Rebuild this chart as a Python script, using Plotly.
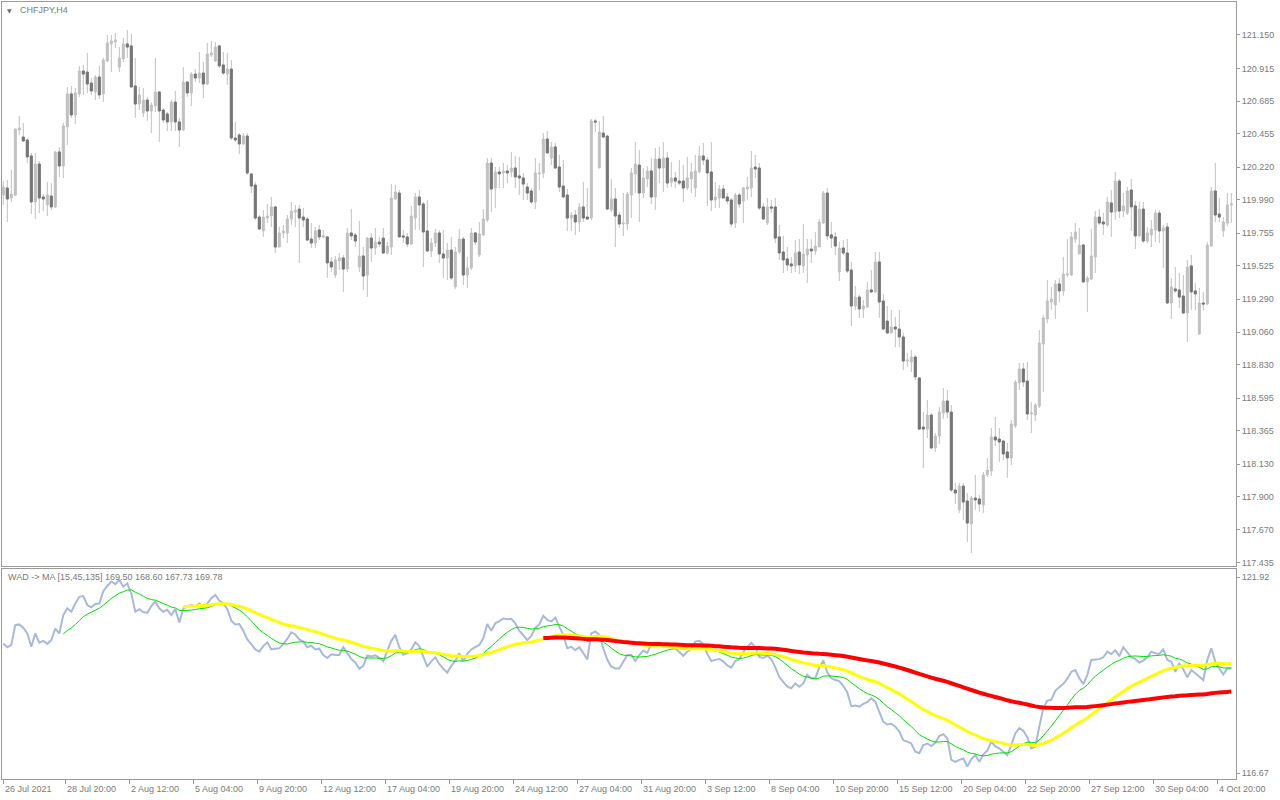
import numpy as np
import pandas as pd
import plotly.graph_objects as go

# ---------------- data ----------------
symbol_label = "CHFJPY,H4"
indicator_label = "WAD -> MA [15,45,135] 169.50 168.60 167.73 169.78"

opens = [
    120.024, 120.073, 120.003, 120.024, 120.481, 120.432, 120.411, 120.299, 119.975, 120.242,
    120.010, 119.954, 120.017, 119.940, 120.327, 120.228, 120.503, 120.735, 120.587, 120.735,
    120.896, 120.889, 120.812, 120.749, 120.854, 120.735, 120.967, 121.087, 121.101, 120.924,
    120.981, 121.087, 121.073, 120.791, 120.664, 120.601, 120.692, 120.615, 120.650, 120.749,
    120.622, 120.594, 120.538, 120.678, 120.538, 120.481, 120.819, 120.742, 120.875, 120.847,
    120.882, 120.805, 121.009, 120.967, 121.073, 120.939, 120.875, 120.910, 120.425, 120.446,
    120.383, 120.439, 120.172, 120.094, 119.869, 119.771, 119.862, 119.876, 119.940, 119.658,
    119.757, 119.757, 119.855, 119.904, 119.925, 119.869, 119.855, 119.714, 119.686, 119.778,
    119.729, 119.729, 119.553, 119.461, 119.560, 119.581, 119.503, 119.757, 119.743, 119.518,
    119.595, 119.461, 119.721, 119.651, 119.693, 119.721, 119.616, 119.658, 119.996, 120.038,
    119.736, 119.729, 119.679, 119.862, 120.010, 119.961, 119.771, 119.630, 119.686, 119.757,
    119.609, 119.581, 119.637, 119.377, 119.623, 119.714, 119.461, 119.510, 119.757, 119.602,
    119.743, 119.848, 120.249, 120.073, 120.186, 120.179, 120.193, 120.186, 120.214, 120.158,
    120.144, 120.080, 120.052, 119.975, 120.172, 120.179, 120.418, 120.284, 120.362, 120.221,
    120.087, 120.024, 119.862, 119.883, 119.834, 119.940, 119.869, 119.862, 120.545, 120.214,
    120.460, 120.439, 119.918, 119.996, 119.883, 119.820, 119.820, 120.024, 120.172, 120.235,
    120.038, 120.137, 120.193, 120.010, 120.277, 120.214, 120.284, 120.115, 120.144, 120.122,
    120.122, 120.073, 120.137, 120.073, 120.186, 120.299, 120.270, 120.186, 119.989, 120.003,
    120.066, 120.010, 119.989, 119.827, 120.024, 119.982, 120.066, 120.073, 120.221, 120.214,
    119.940, 119.827, 119.940, 119.940, 119.729, 119.623, 119.574, 119.539, 119.525, 119.623,
    119.525, 119.602, 119.644, 119.630, 119.658, 119.827, 120.038, 119.743, 119.729, 119.482,
    119.651, 119.616, 119.496, 119.243, 119.306, 119.222, 119.236, 119.356, 119.342, 119.553,
    119.278, 119.137, 119.053, 119.095, 119.081, 119.025, 118.856, 118.849, 118.884, 118.737,
    118.391, 118.377, 118.476, 118.244, 118.328, 118.490, 118.575, 118.497, 117.948, 117.808,
    117.976, 117.871, 117.709, 117.892, 117.885, 117.843, 118.054, 118.082, 118.321, 118.307,
    118.293, 118.216, 118.174, 118.399, 118.701, 118.800, 118.715, 118.483, 118.476, 118.539,
    118.976, 119.152, 119.271, 119.250, 119.398, 119.349, 119.461, 119.461, 119.714, 119.609,
    119.672, 119.412, 119.433, 119.588, 119.869, 119.834, 119.813, 119.968, 119.904, 120.122,
    119.911, 119.897, 120.059, 119.947, 119.736, 119.925, 119.700, 119.743, 119.778, 119.897,
    119.771, 119.799, 119.264, 119.363, 119.356, 119.313, 119.194, 119.525, 119.349, 119.046,
    119.264, 119.257, 119.665, 120.052, 119.890, 119.771, 119.827, 119.954,
]

highs = [
    120.122, 120.129, 120.200, 120.489, 120.580, 120.531, 120.425, 120.320, 120.320, 120.263,
    120.031, 120.115, 120.108, 120.334, 120.362, 120.531, 120.784, 120.791, 120.777, 120.932,
    120.939, 121.023, 120.847, 120.868, 120.932, 120.988, 121.150, 121.150, 121.164, 121.065,
    121.129, 121.185, 121.157, 120.988, 120.784, 120.777, 120.713, 120.678, 120.988, 120.756,
    120.636, 120.608, 120.692, 120.756, 120.566, 120.924, 120.826, 120.889, 120.910, 121.030,
    120.960, 121.094, 121.108, 121.101, 121.080, 121.030, 121.023, 120.974, 120.538, 120.460,
    120.460, 120.460, 120.179, 120.115, 119.883, 119.918, 119.961, 120.010, 119.947, 119.799,
    119.813, 119.883, 119.975, 119.954, 119.954, 119.932, 119.869, 119.827, 119.799, 119.813,
    119.778, 119.736, 119.588, 119.595, 119.616, 119.602, 119.792, 119.925, 119.757, 119.841,
    119.658, 119.729, 119.757, 119.792, 119.729, 119.792, 119.693, 120.101, 120.094, 120.059,
    119.778, 119.757, 119.947, 120.038, 120.059, 119.975, 119.989, 119.721, 119.785, 119.778,
    119.778, 119.686, 119.729, 119.658, 119.785, 119.729, 119.588, 119.792, 119.764, 119.834,
    119.925, 120.284, 120.284, 120.221, 120.221, 120.249, 120.235, 120.327, 120.299, 120.292,
    120.179, 120.108, 120.073, 120.284, 120.249, 120.460, 120.474, 120.397, 120.390, 120.306,
    120.270, 120.066, 119.904, 119.918, 119.968, 120.115, 120.073, 120.559, 120.559, 120.545,
    120.580, 120.446, 120.137, 120.073, 119.904, 120.038, 120.045, 120.214, 120.397, 120.341,
    120.214, 120.228, 120.284, 120.355, 120.362, 120.397, 120.327, 120.256, 120.186, 120.270,
    120.235, 120.292, 120.249, 120.306, 120.369, 120.390, 120.292, 120.397, 120.115, 120.094,
    120.094, 120.038, 120.003, 120.038, 120.038, 120.080, 120.151, 120.334, 120.306, 120.249,
    119.968, 120.003, 119.989, 120.003, 119.813, 119.736, 119.658, 119.588, 119.707, 119.714,
    119.820, 119.714, 119.714, 119.764, 119.855, 120.052, 120.073, 119.834, 119.764, 119.693,
    119.707, 119.714, 119.553, 119.384, 119.321, 119.285, 119.412, 119.496, 119.623, 119.623,
    119.328, 119.243, 119.215, 119.166, 119.215, 119.053, 118.912, 118.933, 118.898, 118.737,
    118.497, 118.582, 118.490, 118.349, 118.532, 118.666, 118.652, 118.546, 117.998, 117.998,
    117.998, 117.927, 117.906, 118.054, 117.913, 118.075, 118.173, 118.385, 118.462, 118.385,
    118.300, 118.279, 118.441, 118.722, 118.842, 118.842, 118.849, 118.568, 118.561, 119.074,
    119.180, 119.426, 119.377, 119.426, 119.440, 119.588, 119.714, 119.764, 119.827, 119.792,
    119.679, 119.454, 119.785, 119.911, 119.925, 119.897, 120.010, 120.059, 120.186, 120.137,
    120.038, 120.080, 120.137, 119.982, 119.975, 119.975, 119.799, 119.848, 119.918, 119.918,
    119.813, 119.827, 119.440, 119.518, 119.475, 119.461, 119.567, 119.602, 119.405, 119.370,
    119.342, 119.693, 120.080, 120.249, 120.003, 119.869, 120.038, 120.038,
]

lows = [
    119.954, 119.834, 119.975, 120.017, 120.446, 120.397, 120.249, 119.890, 119.855, 119.897,
    119.911, 119.876, 119.918, 119.932, 120.151, 120.144, 120.376, 120.566, 120.524, 120.714,
    120.728, 120.742, 120.728, 120.692, 120.699, 120.678, 120.960, 120.889, 121.058, 120.889,
    120.960, 120.988, 120.777, 120.566, 120.622, 120.573, 120.545, 120.460, 120.608, 120.397,
    120.531, 120.474, 120.474, 120.474, 120.362, 120.474, 120.714, 120.650, 120.819, 120.812,
    120.706, 120.798, 120.995, 120.960, 120.918, 120.868, 120.798, 120.411, 120.397, 120.313,
    120.376, 120.165, 120.038, 119.848, 119.778, 119.729, 119.827, 119.799, 119.616, 119.658,
    119.721, 119.686, 119.813, 119.799, 119.546, 119.799, 119.700, 119.651, 119.651, 119.707,
    119.721, 119.440, 119.482, 119.440, 119.496, 119.342, 119.482, 119.707, 119.658, 119.482,
    119.356, 119.307, 119.553, 119.602, 119.658, 119.609, 119.609, 119.602, 119.989, 119.729,
    119.686, 119.658, 119.672, 119.778, 119.778, 119.518, 119.623, 119.588, 119.658, 119.546,
    119.440, 119.426, 119.426, 119.363, 119.609, 119.391, 119.370, 119.496, 119.672, 119.588,
    119.736, 119.834, 119.904, 119.932, 120.073, 120.073, 120.108, 120.151, 120.073, 120.024,
    119.989, 119.989, 119.961, 119.925, 120.059, 120.144, 120.313, 120.235, 120.207, 120.045,
    120.003, 119.771, 119.771, 119.743, 119.764, 119.834, 119.848, 119.848, 120.467, 120.214,
    120.425, 119.918, 119.904, 119.658, 119.792, 119.736, 119.778, 119.862, 120.038, 119.834,
    120.003, 120.080, 119.961, 119.918, 120.108, 120.045, 120.073, 120.080, 120.073, 120.094,
    119.975, 120.059, 120.038, 120.010, 120.179, 120.235, 119.947, 119.911, 119.932, 119.932,
    120.003, 119.961, 119.799, 119.792, 119.932, 119.827, 119.989, 120.010, 120.144, 119.918,
    119.848, 119.813, 119.897, 119.686, 119.567, 119.475, 119.489, 119.475, 119.482, 119.468,
    119.475, 119.405, 119.546, 119.602, 119.658, 119.820, 119.707, 119.651, 119.602, 119.419,
    119.602, 119.475, 119.102, 119.215, 119.159, 119.159, 119.229, 119.335, 119.335, 119.159,
    119.074, 119.053, 119.053, 118.954, 118.954, 118.793, 118.814, 118.779, 118.722, 118.370,
    118.103, 118.314, 118.237, 118.216, 118.272, 118.448, 118.455, 117.934, 117.850, 117.787,
    117.737, 117.582, 117.505, 117.808, 117.794, 117.787, 118.040, 118.047, 118.258, 118.145,
    118.159, 118.033, 118.124, 118.385, 118.652, 118.673, 118.441, 118.349, 118.434, 118.525,
    118.638, 119.123, 119.215, 119.152, 119.271, 119.314, 119.447, 119.454, 119.686, 119.609,
    119.405, 119.201, 119.426, 119.475, 119.813, 119.743, 119.799, 119.729, 119.848, 119.862,
    119.869, 119.883, 119.771, 119.644, 119.729, 119.686, 119.686, 119.658, 119.693, 119.686,
    119.510, 119.257, 119.152, 119.335, 119.229, 119.187, 118.990, 119.215, 119.215, 119.039,
    119.215, 119.250, 119.658, 119.834, 119.834, 119.729, 119.803, 119.827,
]

closes = [
    120.080, 119.996, 120.031, 120.489, 120.496, 120.404, 120.292, 119.975, 120.242, 120.003,
    119.996, 120.024, 119.940, 120.327, 120.228, 120.510, 120.735, 120.587, 120.742, 120.896,
    120.875, 120.805, 120.756, 120.854, 120.728, 120.974, 121.094, 121.108, 121.115, 120.988,
    121.087, 121.065, 120.784, 120.664, 120.728, 120.692, 120.615, 120.657, 120.749, 120.615,
    120.552, 120.538, 120.678, 120.538, 120.481, 120.819, 120.742, 120.875, 120.847, 120.882,
    120.805, 121.016, 121.023, 121.065, 120.932, 120.882, 120.910, 120.425, 120.411, 120.383,
    120.439, 120.179, 120.087, 119.862, 119.785, 119.869, 119.876, 119.940, 119.658, 119.757,
    119.771, 119.855, 119.911, 119.918, 119.862, 119.848, 119.707, 119.686, 119.771, 119.729,
    119.736, 119.546, 119.518, 119.567, 119.581, 119.503, 119.757, 119.736, 119.700, 119.595,
    119.454, 119.721, 119.651, 119.693, 119.679, 119.616, 119.665, 120.003, 120.045, 119.729,
    119.729, 119.679, 119.876, 120.010, 119.954, 119.764, 119.630, 119.686, 119.757, 119.609,
    119.581, 119.637, 119.440, 119.623, 119.714, 119.461, 119.510, 119.757, 119.693, 119.750,
    119.855, 120.249, 120.066, 120.186, 120.172, 120.193, 120.179, 120.214, 120.151, 120.144,
    120.101, 120.038, 119.975, 120.179, 120.179, 120.418, 120.320, 120.362, 120.214, 120.080,
    120.010, 119.862, 119.883, 119.834, 119.940, 119.862, 119.855, 120.545, 120.538, 120.467,
    120.432, 119.925, 119.996, 119.876, 119.820, 119.827, 120.031, 120.179, 120.242, 120.038,
    120.144, 120.193, 120.010, 120.277, 120.214, 120.284, 120.108, 120.144, 120.122, 120.108,
    120.073, 120.144, 120.186, 120.193, 120.299, 120.270, 120.179, 119.989, 120.010, 120.066,
    120.003, 119.982, 119.820, 120.024, 119.961, 120.073, 120.080, 120.214, 120.207, 119.932,
    119.855, 119.940, 119.932, 119.721, 119.616, 119.567, 119.532, 119.525, 119.616, 119.532,
    119.609, 119.644, 119.630, 119.665, 119.834, 120.038, 119.736, 119.721, 119.665, 119.651,
    119.616, 119.489, 119.243, 119.306, 119.222, 119.243, 119.356, 119.342, 119.553, 119.271,
    119.081, 119.053, 119.095, 119.081, 119.025, 118.856, 118.863, 118.884, 118.744, 118.377,
    118.377, 118.476, 118.244, 118.328, 118.497, 118.575, 118.497, 117.948, 117.927, 117.976,
    117.864, 117.716, 117.892, 117.878, 117.850, 118.054, 118.089, 118.321, 118.300, 118.286,
    118.202, 118.174, 118.413, 118.708, 118.800, 118.708, 118.483, 118.490, 118.546, 118.983,
    119.159, 119.278, 119.292, 119.398, 119.349, 119.468, 119.468, 119.729, 119.764, 119.672,
    119.412, 119.440, 119.595, 119.869, 119.827, 119.820, 119.975, 119.904, 120.122, 119.911,
    119.947, 120.052, 119.940, 119.736, 119.925, 119.700, 119.757, 119.785, 119.897, 119.771,
    119.792, 119.264, 119.377, 119.349, 119.306, 119.194, 119.518, 119.342, 119.328, 119.264,
    119.257, 119.672, 120.052, 119.883, 119.869, 119.834, 119.954, 119.961,
]

wad = [
    120.14, 120.04, 120.10, 120.63, 120.65, 120.56, 120.41, 120.05, 120.41, 120.16,
    120.21, 120.13, 120.23, 120.54, 120.41, 120.90, 121.08, 120.99, 121.21, 121.39,
    121.41, 121.17, 121.11, 121.20, 121.21, 121.54, 121.68, 121.80, 121.73, 121.84,
    121.66, 121.75, 121.48, 120.99, 121.06, 120.98, 120.96, 121.14, 121.26, 121.08,
    120.99, 121.04, 120.90, 121.06, 120.70, 121.08, 121.13, 121.17, 121.13, 121.21,
    121.13, 121.21, 121.35, 121.44, 121.29, 121.21, 121.06, 120.75, 120.65, 120.66,
    120.48, 120.25, 120.12, 119.98, 119.92, 120.07, 120.17, 119.98, 120.00, 120.01,
    120.13, 120.26, 120.44, 120.38, 120.25, 120.19, 120.04, 120.08, 119.98, 120.00,
    119.83, 119.75, 119.85, 119.83, 119.83, 120.04, 119.88, 119.72, 119.63, 119.46,
    119.54, 119.82, 119.79, 119.82, 119.75, 119.66, 119.95, 120.21, 120.37, 120.04,
    119.84, 119.88, 119.98, 120.17, 120.07, 119.79, 119.52, 119.66, 119.77, 119.59,
    119.46, 119.36, 119.54, 119.67, 119.88, 119.67, 119.86, 119.98, 120.04, 120.10,
    120.28, 120.66, 120.48, 120.68, 120.74, 120.81, 120.79, 120.80, 120.68, 120.48,
    120.36, 120.23, 120.34, 120.56, 120.65, 120.88, 120.77, 120.73, 120.83, 120.59,
    120.37, 120.01, 120.05, 119.96, 120.04, 119.88, 119.71, 120.41, 120.46, 120.37,
    120.01, 119.70, 119.52, 119.47, 119.47, 119.65, 119.83, 119.83, 119.67, 119.83,
    119.95, 119.89, 120.13, 120.07, 120.16, 120.09, 120.09, 120.03, 120.01, 119.91,
    119.81, 119.92, 119.99, 120.19, 120.21, 120.13, 119.86, 119.67, 119.70, 119.72,
    119.66, 119.55, 119.49, 119.67, 119.72, 119.91, 120.05, 120.16, 120.04, 119.78,
    119.75, 119.81, 119.72, 119.50, 119.24, 119.11, 118.98, 118.94, 119.07, 118.98,
    119.07, 119.30, 119.21, 119.21, 119.50, 119.68, 119.36, 119.21, 119.16, 119.13,
    119.00, 118.83, 118.46, 118.48, 118.45, 118.52, 118.57, 118.67, 118.58, 118.31,
    118.04, 117.97, 117.99, 117.91, 117.78, 117.55, 117.51, 117.46, 117.24, 117.20,
    117.42, 117.46, 117.39, 117.48, 117.66, 117.71, 117.60, 117.02, 116.97, 117.02,
    117.06, 116.84, 117.04, 117.15, 116.97, 117.17, 117.27, 117.51, 117.38, 117.33,
    117.24, 117.15, 117.42, 117.73, 117.87, 117.80, 117.63, 117.33, 117.38, 117.91,
    118.40, 118.61, 118.63, 118.87, 118.97, 119.06, 119.19, 119.38, 119.43, 119.21,
    119.05, 119.30, 119.70, 119.71, 119.72, 119.77, 119.92, 119.86, 119.96, 119.80,
    120.04, 119.90, 119.77, 119.72, 119.63, 119.68, 119.77, 119.92, 119.88, 119.86,
    119.98, 119.70, 119.65, 119.38, 119.61, 119.45, 119.23, 119.43, 119.34, 119.25,
    119.16, 119.70, 120.01, 119.65, 119.47, 119.31, 119.47, 119.47,
]

ma_periods = [15, 45, 135]

date_labels = [
    "26 Jul 2021", "28 Jul 20:00", "2 Aug 12:00", "5 Aug 04:00", "9 Aug 20:00",
    "12 Aug 12:00", "17 Aug 04:00", "19 Aug 20:00", "24 Aug 12:00", "27 Aug 04:00",
    "31 Aug 20:00", "3 Sep 12:00", "8 Sep 04:00", "10 Sep 20:00", "15 Sep 12:00",
    "20 Sep 04:00", "22 Sep 20:00", "27 Sep 12:00", "30 Sep 04:00", "4 Oct 20:00",
]

price_ticks = [121.150, 120.915, 120.685, 120.455, 120.220, 119.990, 119.755, 119.525,
               119.290, 119.060, 118.830, 118.595, 118.365, 118.130, 117.900, 117.670, 117.435]
wad_ticks = [121.92, 116.67]

# ---------------- styling ----------------
LIGHT = "#C0C0C0"
DARK = "#767676"
FRAME = "#9A9A9A"
TXT = "#7A7A7A"
FONT = "Liberation Sans"
WAD_C = "#A9B9D9"
MA_COLORS = ["#00E000", "#FFFF00", "#FF0000"]
MA_WIDTHS = [1, 3, 4]

n = len(closes)
assert len(opens) == n and len(highs) == n and len(lows) == n and len(wad) == n
idx = list(range(n))
bear = [i for i in idx if closes[i] < opens[i]]

W, H = 1280, 800
L, R, T, B = 2, 44, 2, 21
PW, PH = W - L - R, H - T - B


def py(px_y):
    return (H - B - px_y) / PH


def pxx(px_x):
    return (px_x - L) / PW


xr = [-0.325, -0.325 + PW / 4.0]

fig = go.Figure()

# full candles (light bodies, light wicks)
fig.add_trace(go.Candlestick(
    x=idx, open=opens, high=highs, low=lows, close=closes,
    increasing=dict(line=dict(color=LIGHT, width=1), fillcolor=LIGHT),
    decreasing=dict(line=dict(color=LIGHT, width=1), fillcolor=LIGHT),
    whiskerwidth=0, hoverinfo="skip", xaxis="x", yaxis="y",
))
# dark bodies for bearish candles
fig.add_trace(go.Candlestick(
    x=bear, open=[opens[i] for i in bear], close=[closes[i] for i in bear],
    high=[opens[i] for i in bear], low=[closes[i] for i in bear],
    increasing=dict(line=dict(color=DARK, width=1), fillcolor=DARK),
    decreasing=dict(line=dict(color=DARK, width=1), fillcolor=DARK),
    whiskerwidth=0, hoverinfo="skip", xaxis="x", yaxis="y",
))

# indicator: WAD line and its linear-weighted moving averages
fig.add_trace(go.Scatter(x=idx, y=wad, mode="lines", line=dict(color=WAD_C, width=2, simplify=False),
                         hoverinfo="skip", xaxis="x2", yaxis="y2"))
wad_s = pd.Series(wad)
for p, c, w in zip(ma_periods, MA_COLORS, MA_WIDTHS):
    weights = np.arange(1, p + 1, dtype=float)
    ma = wad_s.rolling(p).apply(lambda a: float(np.dot(a, weights) / weights.sum()), raw=True)
    ma[ma.index < p] = None
    fig.add_trace(go.Scatter(x=idx, y=ma, mode="lines", line=dict(color=c, width=w, simplify=False),
                             hoverinfo="skip", xaxis="x2", yaxis="y2"))

tick_pos = [0] + [15.5 + 16 * k for k in range(len(date_labels) - 1)]

main_dom = [py(566), 1]
ind_dom = [0, py(569)]

axis_common = dict(showgrid=False, zeroline=False, showline=True, mirror=True,
                   linecolor=FRAME, linewidth=1, fixedrange=True)

fig.update_layout(
    width=W, height=H, margin=dict(l=L, r=R, t=T, b=B),
    paper_bgcolor="white", plot_bgcolor="white", showlegend=False,
    boxgap=0.5, boxgroupgap=0,
    xaxis=dict(domain=[0, 1], anchor="y", range=xr, showticklabels=False, ticks="",
               rangeslider=dict(visible=False), **axis_common),
    yaxis=dict(domain=main_dom, anchor="x", range=[121.396 - 0.0070361 * 566, 121.396 - 0.0070361 * 2],
               side="right", tickvals=price_ticks, ticktext=[f"{v:.3f}" for v in price_ticks],
               ticks="outside", ticklen=3, tickcolor=FRAME,
               tickfont=dict(family=FONT, size=9, color=TXT), **axis_common),
    xaxis2=dict(domain=[0, 1], anchor="y2", range=xr, tickvals=tick_pos, showticklabels=False,
                ticks="outside", ticklen=4, tickcolor=FRAME, **axis_common),
    yaxis2=dict(domain=ind_dom, anchor="x2", range=[121.92 - (779 - 577) * 0.0267857, 121.92 + 8 * 0.0267857],
                side="right", tickvals=wad_ticks, ticktext=[f"{v:.2f}" for v in wad_ticks],
                ticks="outside", ticklen=3, tickcolor=FRAME,
                tickfont=dict(family=FONT, size=9, color=TXT), **axis_common),
)

ann = []
ann.append(dict(text="▼", xref="paper", yref="paper", x=pxx(5), y=py(10), xanchor="left", yanchor="middle",
                showarrow=False, font=dict(family="DejaVu Sans", size=6, color="#707070")))
ann.append(dict(text=symbol_label, xref="paper", yref="paper", x=pxx(18), y=py(10), xanchor="left", yanchor="middle",
                showarrow=False, font=dict(family=FONT, size=9, color=TXT)))
ann.append(dict(text=indicator_label, xref="paper", yref="paper", x=pxx(6), y=py(577), xanchor="left", yanchor="middle",
                showarrow=False, font=dict(family=FONT, size=9, color=TXT)))
for pos, lab in zip(tick_pos, date_labels):
    ann.append(dict(text=lab, xref="x2", yref="paper", x=pos, y=py(789), xanchor="left", yanchor="middle",
                    xshift=0, showarrow=False, font=dict(family=FONT, size=9, color=TXT)))
fig.update_layout(annotations=ann)

fig.write_html("out.html", config={"displayModeBar": False},
               post_script="document.body.style.margin='0';document.body.style.overflow='hidden';")
